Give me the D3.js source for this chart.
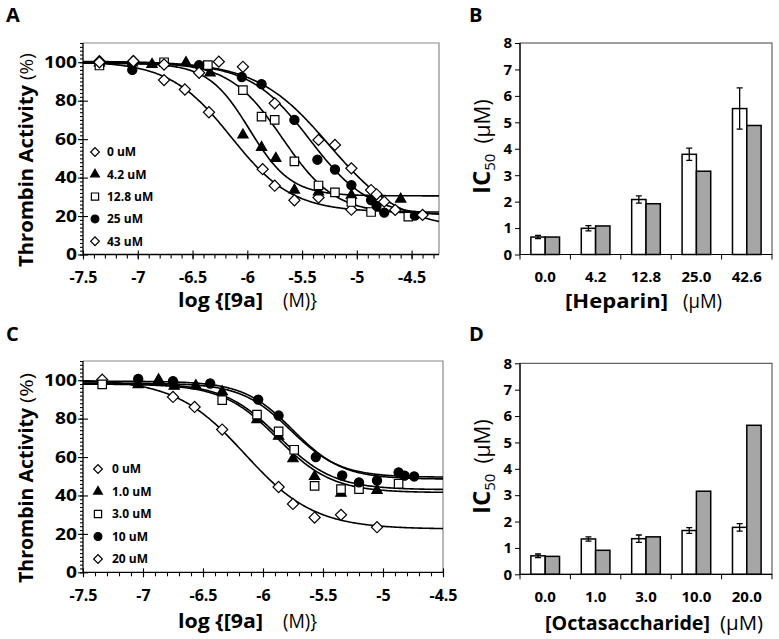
<!DOCTYPE html>
<html><head><meta charset="utf-8">
<script src="https://cdn.jsdelivr.net/npm/d3@7/dist/d3.min.js"></script>
<style>
body{margin:0;background:#fff}
svg{display:block}
text{font-family:"Open Sans",sans-serif;fill:#000}
</style>
</head><body>
<svg id="chart" width="779" height="639"></svg>
<script>
// ---------------- DATA ----------------
// Panel A: heparin concentrations, log[9a] (M) vs thrombin activity (%)
const seriesA = ["0 uM", "4.2 uM", "12.8 uM", "25 uM", "43 uM"];
const aX_0 = [-7.35, -7.04, -6.76, -6.57, -6.35, -5.86, -5.75, -5.57, -5.35, -5.05];
const aY_0 = [100.5, 100.5, 90.7, 85.8, 74.0, 44.4, 35.8, 28.2, 29.6, 23.3];
const aX_42 = [-7.35, -7.05, -6.87, -6.56, -6.34, -6.04, -5.87, -5.74, -5.57, -5.35, -5.05, -4.60];
const aY_42 = [99.6, 99.7, 98.9, 99.8, 94.4, 62.2, 55.7, 50.0, 33.5, 32.6, 30.8, 28.8];
const aX_128 = [-7.35, -6.76, -6.36, -6.04, -5.87, -5.75, -5.57, -5.35, -5.20, -5.05, -4.87, -4.53];
const aY_128 = [98.3, 100.0, 98.5, 85.5, 71.7, 70.0, 48.4, 35.9, 32.3, 27.3, 22.1, 19.7];
const aX_25 = [-7.05, -6.44, -6.05, -5.87, -5.57, -5.36, -5.20, -5.05, -4.87, -4.82, -4.75, -4.47];
const aY_25 = [96.0, 98.5, 92.3, 88.6, 70.0, 49.3, 44.2, 36.1, 28.3, 25.3, 21.8, 20.2];
const aX_43 = [-7.35, -7.04, -6.76, -6.44, -6.26, -6.04, -5.75, -5.35, -5.20, -5.05, -4.87, -4.82, -4.75, -4.65, -4.40];
const aY_43 = [100.0, 100.5, 98.8, 94.5, 100.3, 97.6, 78.6, 59.6, 57.0, 44.8, 33.5, 31.3, 27.5, 23.2, 20.6];
// fitted curve parameters: [top, bottom, logIC50, hill]
const fitA_0 = [100.5, 22, -6.15, 1.55];
const fitA_42 = [99.5, 30.5, -5.98, 2.3];
const fitA_128 = [100, 21, -5.68, 1.8];
const fitA_25 = [99.5, 20, -5.43, 1.6];
const fitA_43 = [100.5, 13, -5.25, 1.3];

// Panel C: octasaccharide concentrations
const seriesC = ["0 uM", "1.0 uM", "3.0 uM", "10 uM", "20 uM"];
const cX_0 = [-7.34, -6.75, -6.57, -6.34, -5.87, -5.75, -5.57, -5.35, -5.05];
const cY_0 = [100.3, 91.3, 86.1, 74.3, 44.4, 35.6, 28.5, 29.9, 23.5];
const cX_1 = [-7.04, -6.87, -6.74, -6.56, -6.34, -6.05, -5.87, -5.75, -5.57, -5.35, -5.05];
const cY_1 = [97.7, 100.3, 96.9, 97.2, 94.0, 79.5, 70.8, 59.1, 49.9, 41.2, 42.6];
const cX_3 = [-7.34, -6.34, -6.05, -5.87, -5.74, -5.57, -5.35, -5.20, -4.87];
const cY_3 = [97.8, 89.6, 82.1, 73.4, 63.8, 45.0, 43.3, 43.3, 46.1];
const cX_10 = [-7.04, -6.75, -6.44, -6.04, -5.87, -5.56, -5.34, -5.20, -5.05, -4.87, -4.82, -4.74];
const cY_10 = [100.7, 99.5, 98.3, 89.9, 81.6, 60.0, 50.4, 46.8, 47.8, 52.0, 50.3, 49.9];
const cX_20 = [];
const cY_20 = [];
const fitC_0 = [100.5, 22.5, -6.15, 1.5];
const fitC_1 = [98, 41.5, -5.88, 1.9];
const fitC_3 = [98.5, 43, -5.87, 1.9];
const fitC_10 = [98.5, 49.5, -5.77, 2.1];
const fitC_20 = [99.5, 48.5, -5.75, 2.1];

// Panel B: IC50 vs heparin
const heparinCats = ["0.0", "4.2", "12.8", "25.0", "42.6"];
const bWhite = [0.66, 0.99, 2.08, 3.79, 5.52];
const bWhiteErr = [0.06, 0.10, 0.14, 0.23, 0.78];
const bGray = [0.66, 1.08, 1.92, 3.15, 4.88];
// Panel D: IC50 vs octasaccharide
const octaCats = ["0.0", "1.0", "3.0", "10.0", "20.0"];
const dWhite = [0.70, 1.34, 1.35, 1.66, 1.78];
const dWhiteErr = [0.07, 0.08, 0.14, 0.11, 0.14];
const dGray = [0.68, 0.91, 1.42, 3.15, 5.65];

// Tick labels
const logTickValues = [-7.5, -7, -6.5, -6, -5.5, -5, -4.5];
const logTickLabels = ["-7.5", "-7", "-6.5", "-6", "-5.5", "-5", "-4.5"];
const activityTicks = [0, 20, 40, 60, 80, 100];
const ic50Ticks = [0, 1, 2, 3, 4, 5, 6, 7, 8];

// ---------------- DRAWING ----------------
const svg = d3.select("#chart");

function logistic(p, x) { return p[1] + (p[0] - p[1]) / (1 + Math.pow(10, (x - p[2]) * p[3])); }

function marker(g, type, cx, cy, k) {
  k = k || 1;
  let path, rot = 0, fill = "#fff";
  if (type === "diamond") { path = d3.symbol().type(d3.symbolSquare).size(62 * k * k)(); rot = 45; }
  else if (type === "square") { path = d3.symbol().type(d3.symbolSquare).size(72 * k * k)(); }
  else if (type === "circle") { path = d3.symbol().type(d3.symbolCircle).size(66 * k * k)(); fill = "#000"; }
  else { path = d3.symbol().type(d3.symbolTriangle).size(46 * k * k)(); fill = "#000"; }
  g.append("path").attr("d", path)
    .attr("transform", `translate(${cx},${cy}) rotate(${rot})`)
    .attr("fill", fill).attr("stroke", "#000").attr("stroke-width", 1.2);
}

function curvePanel(o) {
  const x = d3.scaleLinear().domain(o.xDomain).range(o.xRange);
  const y = d3.scaleLinear().domain([0, 110]).range(o.yRange);
  const [x0, x1] = o.xRange, [yb, yt] = o.yRange;
  const g = svg.append("g");
  g.append("path").attr("d", `M${x0},${yt}H${x1}V${yb}`)
    .attr("fill", "none").attr("stroke", "#8a8a8a").attr("stroke-width", 1.2);

  const clipId = "clip" + o.id;
  svg.append("clipPath").attr("id", clipId).append("rect")
    .attr("x", x0).attr("y", yt).attr("width", x1 - x0).attr("height", yb - yt);

  // fitted curves
  const line = d3.line().x(d => x(d[0])).y(d => y(d[1]));
  const xs = d3.range(o.xDomain[0], o.xDomain[1] + 0.0001, 0.01);
  o.fits.forEach(p => {
    g.append("path").attr("clip-path", `url(#${clipId})`)
      .attr("d", line(xs.map(v => [v, logistic(p, v)])))
      .attr("fill", "none").attr("stroke", "#000").attr("stroke-width", 1.6);
  });
  // data points
  o.points.forEach((s, i) => {
    s.xs.forEach((xv, j) => marker(g, o.markers[i], x(xv), y(s.ys[j]), 1));
  });

  // x axis: minor ticks
  const minorX = d3.range(o.xDomain[0], o.xDomain[1] + 0.0001, 0.1);
  const ax1 = g.append("g").attr("transform", `translate(0,${yb})`)
    .call(d3.axisBottom(x).tickValues(minorX).tickSize(4).tickSizeOuter(0).tickFormat(""));
  ax1.select(".domain").remove();
  const ax2 = g.append("g").attr("transform", `translate(0,${yb})`)
    .call(d3.axisBottom(x).tickValues(logTickValues).tickSize(5).tickPadding(12).tickSizeOuter(0)
      .tickFormat((d, i) => logTickLabels[i]));
  ax2.select(".domain").remove();
  ax2.selectAll(".tick line").attr("y1", -4).attr("y2", 5);
  ax2.selectAll("text").style("font-size", "16px").style("font-weight", "bold").style("font-family", '"Open Sans",sans-serif');
  g.selectAll(".tick line").attr("stroke", "#000").attr("stroke-width", 1.1);

  // y axis
  const minorY = d3.range(0, 110.001, 2);
  const ay1 = g.append("g").attr("transform", `translate(${x0},0)`)
    .call(d3.axisLeft(y).tickValues(minorY).tickSize(3).tickSizeOuter(0).tickFormat(""));
  ay1.select(".domain").remove();
  const ay2 = g.append("g").attr("transform", `translate(${x0},0)`)
    .call(d3.axisLeft(y).tickValues(activityTicks).tickSize(5).tickPadding(1).tickSizeOuter(0));
  ay2.select(".domain").remove();
  ay2.selectAll(".tick line").attr("x1", 5);
  ay2.selectAll("text").attr("x", 0).attr("transform", "translate(-6,0) scale(1.2,1)")
    .style("font-size", "16px").style("font-weight", "bold").style("font-family", '"Open Sans",sans-serif');
  g.selectAll(".tick line").attr("stroke", "#000").attr("stroke-width", 1.1);

  g.append("line").attr("x1", x0).attr("x2", x1).attr("y1", yb).attr("y2", yb).attr("stroke", "#000").attr("stroke-width", 1.3);
  g.append("line").attr("x1", x0).attr("x2", x0).attr("y1", yt).attr("y2", yb).attr("stroke", "#000").attr("stroke-width", 1.3);

  // legend
  o.names.forEach((n, i) => {
    const ly = o.legend.y0 + i * o.legend.dy;
    marker(g, o.markers[i], o.legend.mx, ly, o.markers[i] === "diamond" ? 0.78 : 0.85);
    g.append("text").attr("x", o.legend.tx).attr("y", ly + 4.3)
      .style("font-size", "12px").style("font-weight", "bold").text(n);
  });

  // titles
  g.append("text").attr("transform", `translate(33,${o.yTitle.start}) rotate(-90)`)
    .attr("textLength", o.yTitle.len).attr("lengthAdjust", "spacingAndGlyphs")
    .style("font-size", "19px").style("font-weight", "bold").text("Thrombin Activity");
  g.append("text").attr("transform", `translate(33,${o.yTitle.start2}) rotate(-90)`)
    .attr("textLength", o.yTitle.len2).attr("lengthAdjust", "spacingAndGlyphs")
    .style("font-size", "19px").text("(%)");
  g.append("text").attr("x", 178).attr("y", o.xTitleY)
    .attr("textLength", 85).attr("lengthAdjust", "spacingAndGlyphs")
    .style("font-size", "20px").style("font-weight", "bold").text("log {[9a]");
  g.append("text").attr("x", 283).attr("y", o.xTitleY)
    .attr("textLength", 34).attr("lengthAdjust", "spacingAndGlyphs")
    .style("font-size", "20px").text("(M)}");
}

function barPanel(o) {
  const x = d3.scaleBand().domain(o.cats).range(o.xRange);
  const sub = d3.scaleBand().domain(["w", "g"]).range([0, x.bandwidth()]).paddingInner(0).paddingOuter(0.76);
  const y = d3.scaleLinear().domain([0, 8]).range(o.yRange);
  const [x0, x1] = o.xRange, [yb, yt] = o.yRange;
  const g = svg.append("g");
  g.append("rect").attr("x", x0).attr("y", yt).attr("width", x1 - x0).attr("height", yb - yt)
    .attr("fill", "none").attr("stroke", "#404040").attr("stroke-width", 1);

  o.cats.forEach((c, i) => {
    g.append("rect").attr("x", x(c) + sub("w")).attr("y", y(o.white[i]))
      .attr("width", sub.bandwidth()).attr("height", y(0) - y(o.white[i]))
      .attr("fill", "#fff").attr("stroke", "#000").attr("stroke-width", 1.5);
    g.append("rect").attr("x", x(c) + sub("g")).attr("y", y(o.gray[i]))
      .attr("width", sub.bandwidth()).attr("height", y(0) - y(o.gray[i]))
      .attr("fill", "#a6a6a6").attr("stroke", "#000").attr("stroke-width", 1.5);
    const cx = x(c) + sub("w") + sub.bandwidth() / 2;
    const lo = y(o.white[i] - o.err[i]), hi = y(o.white[i] + o.err[i]);
    g.append("path").attr("d", `M${cx},${lo}V${hi}M${cx - 3},${lo}H${cx + 3}M${cx - 3},${hi}H${cx + 3}`)
      .attr("stroke", "#000").attr("stroke-width", 1.3).attr("fill", "none");
  });

  const ay = g.append("g").attr("transform", `translate(${x0},0)`)
    .call(d3.axisLeft(y).tickValues(ic50Ticks).tickSize(5).tickPadding(3).tickSizeOuter(0));
  ay.select(".domain").remove();
  ay.selectAll("text").style("font-size", "15px").style("font-weight", "bold").style("font-family", '"Open Sans",sans-serif');
  const bounds = o.cats.map(c => x(c)).concat([x1]);
  const axb = g.append("g").attr("transform", `translate(0,${yb})`);
  axb.selectAll("line").data(bounds).join("line")
    .attr("x1", d => d).attr("x2", d => d).attr("y1", 0).attr("y2", 5).attr("stroke", "#000");
  axb.selectAll("text").data(o.cats).join("text")
    .attr("x", d => x(d) + x.bandwidth() / 2).attr("y", 27.5).attr("text-anchor", "middle")
    .style("font-size", "15px").style("font-weight", "bold").text(d => d);
  g.selectAll(".tick line").attr("stroke", "#000");
  g.append("line").attr("x1", x0).attr("x2", x1).attr("y1", yb).attr("y2", yb).attr("stroke", "#000").attr("stroke-width", 1.2);
  g.append("line").attr("x1", x0).attr("x2", x0).attr("y1", yt).attr("y2", yb).attr("stroke", "#000").attr("stroke-width", 1.2);

  // titles
  g.append("text").attr("x", o.xt.x).attr("y", o.xt.y)
    .attr("textLength", o.xt.len).attr("lengthAdjust", "spacingAndGlyphs")
    .style("font-size", "20px").style("font-weight", "bold").text(o.xt.label);
  g.append("text").attr("x", o.xt.x2).attr("y", o.xt.y)
    .attr("textLength", o.xt.len2).attr("lengthAdjust", "spacingAndGlyphs")
    .style("font-size", "20px").text("(\u03BCM)");
  const t = g.append("text").attr("transform", `translate(490,${o.yt}) rotate(-90)`);
  t.append("tspan").style("font-size", "24px").style("font-weight", "bold").text("IC");
  t.append("tspan").attr("dy", 5).style("font-size", "15px").text("50");
  t.append("tspan").attr("dy", -5).attr("dx", 10).style("font-size", "21px").text("(\u03BCM)");
}

curvePanel({
  id: "A", xDomain: [-7.5, -4.25], xRange: [83, 439], yRange: [254.5, 43],
  names: seriesA, markers: ["diamond", "triangle", "square", "circle", "diamond"],
  points: [{xs: aX_0, ys: aY_0}, {xs: aX_42, ys: aY_42}, {xs: aX_128, ys: aY_128}, {xs: aX_25, ys: aY_25}, {xs: aX_43, ys: aY_43}],
  fits: [fitA_0, fitA_42, fitA_128, fitA_25, fitA_43],
  legend: {mx: 95, tx: 107, y0: 152, dy: 22.3},
  yTitle: {start: 267, len: 182, start2: 80, len2: 27},
  xTitleY: 307
});
curvePanel({
  id: "C", xDomain: [-7.5, -4.5], xRange: [83, 443], yRange: [572.3, 361],
  names: seriesC, markers: ["diamond", "triangle", "square", "circle", "diamond"],
  points: [{xs: cX_0, ys: cY_0}, {xs: cX_1, ys: cY_1}, {xs: cX_3, ys: cY_3}, {xs: cX_10, ys: cY_10}, {xs: cX_20, ys: cY_20}],
  fits: [fitC_0, fitC_1, fitC_3, fitC_10, fitC_20],
  legend: {mx: 98, tx: 112, y0: 469, dy: 22.5},
  yTitle: {start: 583, len: 175, start2: 403, len2: 30},
  xTitleY: 628
});
barPanel({
  cats: heparinCats, white: bWhite, gray: bGray, err: bWhiteErr,
  xRange: [520, 772], yRange: [254.5, 43],
  xt: {x: 565, x2: 683, y: 308, len: 103, len2: 39, label: "[Heparin]"},
  yt: 194
});
barPanel({
  cats: octaCats, white: dWhite, gray: dGray, err: dWhiteErr,
  xRange: [520, 772], yRange: [574.3, 363.3],
  xt: {x: 545, x2: 720, y: 630, len: 165, len2: 43, label: "[Octasaccharide]"},
  yt: 514
});

// panel letters
[["A", 6, 22], ["B", 469, 22], ["C", 6, 341], ["D", 469, 341]].forEach(([t, x, y]) => {
  svg.append("text").attr("x", x).attr("y", y).style("font-size", "20px").style("font-weight", "bold").text(t);
});
</script>
</body></html>
